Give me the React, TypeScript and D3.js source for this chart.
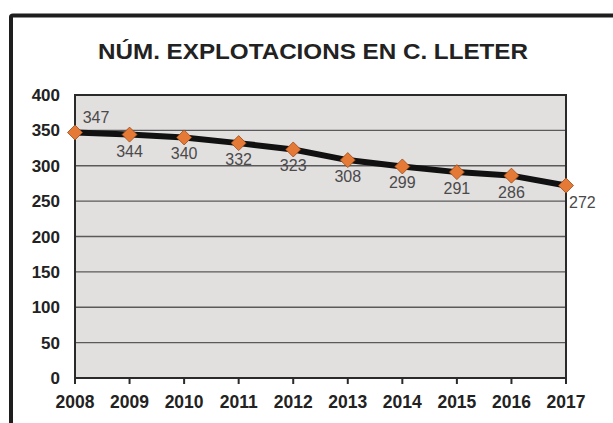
import { useEffect, useRef } from "react";
import * as d3 from "d3";

// chart data
const years = ["2008", "2009", "2010", "2011", "2012", "2013", "2014", "2015", "2016", "2017"];
const farms = [347, 344, 340, 332, 323, 308, 299, 291, 286, 272];
const yTicks = [0, 50, 100, 150, 200, 250, 300, 350, 400];
const title = "NÚM. EXPLOTACIONS EN C. LLETER";

function App() {
  const svgRef = useRef<SVGSVGElement>(null);

  useEffect(() => {
    document.body.style.margin = "0";
    const width = 613;
    const height = 423;
    const left = 75;
    const right = 566;
    const top = 95;
    const bottom = 378;

    const svg = d3.select(svgRef.current);
    svg.selectAll("*").remove();
    svg.attr("width", width).attr("height", height).style("display", "block");

    svg.append("rect").attr("width", width).attr("height", height).attr("fill", "#fff");

    // outer frame (only top and left edges are visible)
    svg
      .append("path")
      .attr("d", `M11,${height} L11,17 Q11,15.5 13,15.5 L${width},15.5`)
      .attr("fill", "none")
      .attr("stroke", "#1e1e1e")
      .attr("stroke-width", 4);

    svg
      .append("text")
      .attr("x", 313)
      .attr("y", 59)
      .attr("text-anchor", "middle")
      .attr("font-family", "Liberation Sans, Arial, sans-serif")
      .attr("font-weight", "bold")
      .attr("font-size", 22)
      .attr("textLength", 430)
      .attr("lengthAdjust", "spacingAndGlyphs")
      .attr("fill", "#222")
      .text(title);

    const x = d3.scalePoint().domain(years).range([left, right]);
    const y = d3.scaleLinear().domain([0, 400]).range([bottom, top]);

    // plot background
    svg
      .append("rect")
      .attr("x", left)
      .attr("y", top)
      .attr("width", right - left)
      .attr("height", bottom - top)
      .attr("fill", "#e2dfdf");

    // gridlines
    svg
      .append("g")
      .selectAll("line")
      .data(yTicks.filter((t) => t > 0 && t < 400))
      .enter()
      .append("line")
      .attr("x1", left)
      .attr("x2", right)
      .attr("y1", (d) => y(d))
      .attr("y2", (d) => y(d))
      .attr("stroke", "#5a5a5a")
      .attr("stroke-width", 1.4);

    // plot border
    svg
      .append("rect")
      .attr("x", left)
      .attr("y", top)
      .attr("width", right - left)
      .attr("height", bottom - top)
      .attr("fill", "none")
      .attr("stroke", "#2a2a2a")
      .attr("stroke-width", 2);

    // y axis labels
    svg
      .append("g")
      .selectAll("text")
      .data(yTicks)
      .enter()
      .append("text")
      .attr("x", 60)
      .attr("y", (d) => y(d) + 6)
      .attr("text-anchor", "end")
      .attr("font-family", "Liberation Sans, Arial, sans-serif")
      .attr("font-weight", "bold")
      .attr("font-size", 17)
      .attr("fill", "#222")
      .text((d) => d);

    // x ticks and labels
    const xg = svg.append("g");
    xg.selectAll("line")
      .data(years)
      .enter()
      .append("line")
      .attr("x1", (d) => x(d)!)
      .attr("x2", (d) => x(d)!)
      .attr("y1", bottom)
      .attr("y2", bottom + 6)
      .attr("stroke", "#2a2a2a")
      .attr("stroke-width", 2);
    xg.selectAll("text")
      .data(years)
      .enter()
      .append("text")
      .attr("x", (d) => x(d)!)
      .attr("y", 408)
      .attr("text-anchor", "middle")
      .attr("font-family", "Liberation Sans, Arial, sans-serif")
      .attr("font-weight", "bold")
      .attr("font-size", 17.5)
      .attr("fill", "#222")
      .text((d) => d);

    const points = years.map((yr, i) => ({ year: yr, value: farms[i] }));

    // line
    svg
      .append("path")
      .datum(points)
      .attr(
        "d",
        d3
          .line<{ year: string; value: number }>()
          .x((d) => x(d.year)!)
          .y((d) => y(d.value))
      )
      .attr("fill", "none")
      .attr("stroke", "#111")
      .attr("stroke-width", 6)
      .attr("stroke-linejoin", "round");

    // diamond markers
    svg
      .append("g")
      .selectAll("path")
      .data(points)
      .enter()
      .append("path")
      .attr("transform", (d) => `translate(${x(d.year)},${y(d.value)})`)
      .attr("d", "M0,-7.5 L7.5,0 L0,7.5 L-7.5,0 Z")
      .attr("fill", "#e47a36")
      .attr("stroke", "#9a4a1a")
      .attr("stroke-width", 0.8);

    // value labels
    svg
      .append("g")
      .selectAll("text")
      .data(points)
      .enter()
      .append("text")
      .attr("x", (d, i) => x(d.year)! + (i === 0 ? 21 : i === points.length - 1 ? 3 : 0))
      .attr("y", (d, i) => y(d.value) + (i === 0 ? -9 : 22))
      .attr("text-anchor", (d, i) => (i === points.length - 1 ? "start" : "middle"))
      .attr("font-family", "Liberation Sans, Arial, sans-serif")
      .attr("font-size", 16)
      .attr("fill", "#4a4a4a")
      .text((d) => d.value);
  }, []);

  return <svg ref={svgRef}></svg>;
}

export default App;
